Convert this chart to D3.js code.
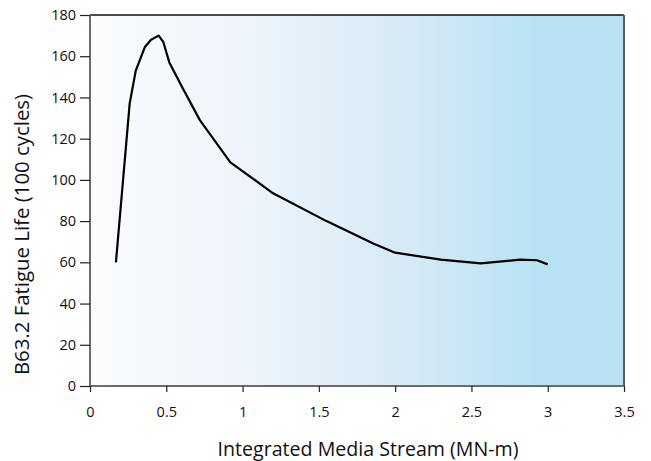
<!DOCTYPE html>
<html>
<head>
<meta charset="utf-8">
<script src="https://cdn.jsdelivr.net/npm/d3@7"></script>
<style>
html,body{margin:0;padding:0;background:#fff;}
svg{display:block;}
</style>
</head>
<body>
<svg id="chart" width="651" height="461"></svg>
<script>
const mediaStream = [0.17, 0.26, 0.30, 0.36, 0.40, 0.45, 0.48, 0.52, 0.60, 0.72, 0.92, 1.20, 1.55, 1.86, 2.00, 2.30, 2.56, 2.82, 2.93, 3.00];
const fatigueLife = [60, 137, 153, 164.5, 168, 170, 167, 157, 145.5, 129, 108.5, 93.5, 80, 69, 64.7, 61.3, 59.5, 61.3, 61, 59];
const xTicks = [0, 0.5, 1, 1.5, 2, 2.5, 3, 3.5];
const yTicks = [0, 20, 40, 60, 80, 100, 120, 140, 160, 180];
const xTitle = "Integrated Media Stream (MN-m)";
const yTitle = "B63.2 Fatigue Life (100 cycles)";

const margin = {left: 90, right: 27, top: 15, bottom: 75};
const W = 651, H = 461;
const svg = d3.select("#chart");
const x = d3.scaleLinear().domain([0, 3.5]).range([margin.left, W - margin.right]);
const y = d3.scaleLinear().domain([0, 180]).range([H - margin.bottom, margin.top]);

const defs = svg.append("defs");
const grad = defs.append("linearGradient").attr("id", "bg").attr("x1", "0%").attr("x2", "100%").attr("y1", "0%").attr("y2", "0%");
grad.append("stop").attr("offset", "0%").attr("stop-color", "#fafcfe");
grad.append("stop").attr("offset", "30%").attr("stop-color", "#edf4fb");
grad.append("stop").attr("offset", "60%").attr("stop-color", "#d6e9f6");
grad.append("stop").attr("offset", "85%").attr("stop-color", "#b6e2f3");
grad.append("stop").attr("offset", "100%").attr("stop-color", "#b6e2f3");

svg.append("rect")
  .attr("x", x(0)).attr("y", y(180))
  .attr("width", x(3.5) - x(0)).attr("height", y(0) - y(180))
  .attr("fill", "url(#bg)");

// top border
svg.append("line").attr("x1", x(0)).attr("x2", x(3.5)).attr("y1", y(180)).attr("y2", y(180))
  .attr("stroke", "#111").attr("stroke-width", 1.5);
// right border
svg.append("line").attr("x1", x(3.5)).attr("x2", x(3.5)).attr("y1", y(180)).attr("y2", y(0))
  .attr("stroke", "#555d63").attr("stroke-width", 2);

const xAxis = svg.append("g").attr("transform", `translate(0,${y(0)})`)
  .call(d3.axisBottom(x).tickValues(xTicks).tickFormat(d => d).tickSizeOuter(0).tickSize(6).tickPadding(15));
const yAxis = svg.append("g").attr("transform", `translate(${x(0)},0)`)
  .call(d3.axisLeft(y).tickValues(yTicks).tickSizeOuter(0).tickSize(10).tickPadding(4));

[xAxis, yAxis].forEach(g => {
  g.select(".domain").attr("stroke", "#6b6b6b").attr("stroke-width", 2);
  g.selectAll(".tick line").attr("stroke", "#222").attr("stroke-width", 1.2);
  g.selectAll(".tick text").attr("fill", "#111").style("font-family", "'Open Sans', sans-serif").style("font-size", "14.5px");
});
xAxis.select(".domain").attr("d", `M${x(0)},0H${x(3.5)}`);
yAxis.select(".domain").attr("d", `M0,${y(0)}V${y(180)}`);

const line = d3.line().x((d, i) => x(mediaStream[i])).y(d => y(d));
svg.append("path").datum(fatigueLife)
  .attr("d", line)
  .attr("fill", "none").attr("stroke", "#000").attr("stroke-width", 2.2)
  .attr("stroke-linejoin", "round");

svg.append("text")
  .attr("x", (x(0) + x(3.5)) / 2 + 11).attr("y", 456)
  .attr("text-anchor", "middle")
  .style("font-family", "'Open Sans', sans-serif").style("font-size", "19.6px").attr("fill", "#111")
  .text(xTitle);

svg.append("text")
  .attr("transform", `translate(29,${(y(0) + y(180)) / 2 + 34}) rotate(-90)`)
  .attr("text-anchor", "middle")
  .style("font-family", "'Open Sans', sans-serif").style("font-size", "20.4px").attr("fill", "#111")
  .text(yTitle);
</script>
</body>
</html>
